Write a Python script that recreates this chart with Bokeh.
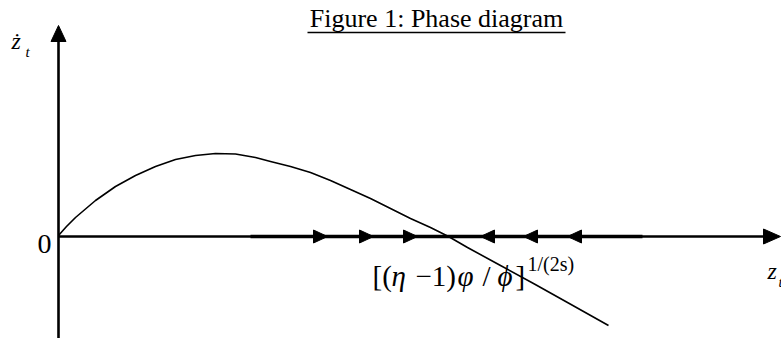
from bokeh.plotting import figure
from bokeh.models import Range1d
from bokeh.core.properties import value
from bokeh.embed import file_html
from bokeh.resources import INLINE

# ---- data (units = pixels from the origin) ----
curve_x = [0, 8, 17, 37, 57, 77, 97, 117, 137, 157, 177, 197, 212, 232, 252, 272,
           292, 312, 332, 352, 372, 390, 409, 442, 475, 509, 550]
curve_y = [1, 10, 19, 36, 50, 61, 70, 77, 81, 83, 82.5, 79, 75, 70, 64, 56,
           47, 38, 28, 18, 9, 0, -11, -29, -47, -66, -89]
right_arrow_tips = [269, 315, 359]
left_arrow_tips = [422, 465, 509]
title_text = "Figure 1: Phase diagram"
formula_parts = ["[(", "η", "−1)", "φ", "/", "ϕ", "]"]
formula_italic = [False, True, False, True, False, True, False]
formula_left = [314, 333, 357, 399, 424, 439, 457]
formula_sup = "1/(2s)"
zero_label = "0"

SERIF = value("Liberation Serif")
W, H = 781, 338
X0, Y0 = 58, 236   # origin position on the page

p = figure(width=W, height=H, output_backend="svg", toolbar_location=None,
           x_range=Range1d(-X0, W - X0), y_range=Range1d(Y0 - H, Y0),
           x_axis_type=None, y_axis_type=None, min_border=0)
p.min_border_left = p.min_border_right = p.min_border_top = p.min_border_bottom = 0
p.outline_line_color = None
p.grid.visible = False
p.background_fill_color = "white"
p.border_fill_color = "white"

# axes
p.line([0, 712], [0, 0], line_color="black", line_width=2.6)
p.line([192, 584], [0, 0], line_color="black", line_width=3.4)
p.line([0, 0], [-110, 200], line_color="black", line_width=2.6)
# axis arrowheads
p.patch([722, 705, 705], [0, 7.5, -7.5], color="black")
p.patch([0, -7.5, 7.5], [211, 195, 195], color="black")

# phase-line arrowheads
L, HW = 14, 6.5
p.patches([[t, t - L, t - L] for t in right_arrow_tips],
          [[0, HW, -HW] for _ in right_arrow_tips], color="black")
p.patches([[t, t + L, t + L] for t in left_arrow_tips],
          [[0, HW, -HW] for _ in left_arrow_tips], color="black")

# curve
p.line(curve_x, curve_y, line_color="black", line_width=1.6, line_join="round")

# texts
p.text(x=[378], y=[218], text=[title_text], text_font=SERIF, text_font_size="26px",
       text_align="center", text_baseline="middle", text_color="black")
p.line([249, 507], [204, 204], line_color="black", line_width=1.5)

p.text(x=[-14], y=[-7], text=[zero_label], text_font=SERIF, text_font_size="28px",
       text_align="center", text_baseline="middle", text_color="black")

p.text(x=[-47], y=[196], text=["ż"], text_font=SERIF, text_font_size="24px",
       text_font_style="italic", text_align="left", text_baseline="middle")
p.text(x=[-33], y=[185], text=["t"], text_font=SERIF, text_font_size="15px",
       text_font_style="italic", text_align="left", text_baseline="middle")

p.text(x=[709], y=[-34], text=["z"], text_font=SERIF, text_font_size="24px",
       text_font_style="italic", text_align="left", text_baseline="middle")
p.text(x=[720], y=[-45], text=["t"], text_font=SERIF, text_font_size="15px",
       text_font_style="italic", text_align="left", text_baseline="middle")

for part, it, lx in zip(formula_parts, formula_italic, formula_left):
    p.text(x=[lx], y=[-39], text=[part], text_font=SERIF, text_font_size="29px",
           text_font_style="italic" if it else "normal",
           text_align="left", text_baseline="middle")
p.text(x=[469], y=[-27], text=[formula_sup], text_font=SERIF, text_font_size="20px",
       text_align="left", text_baseline="middle")

open("out.html", "w").write(file_html(p, INLINE))
